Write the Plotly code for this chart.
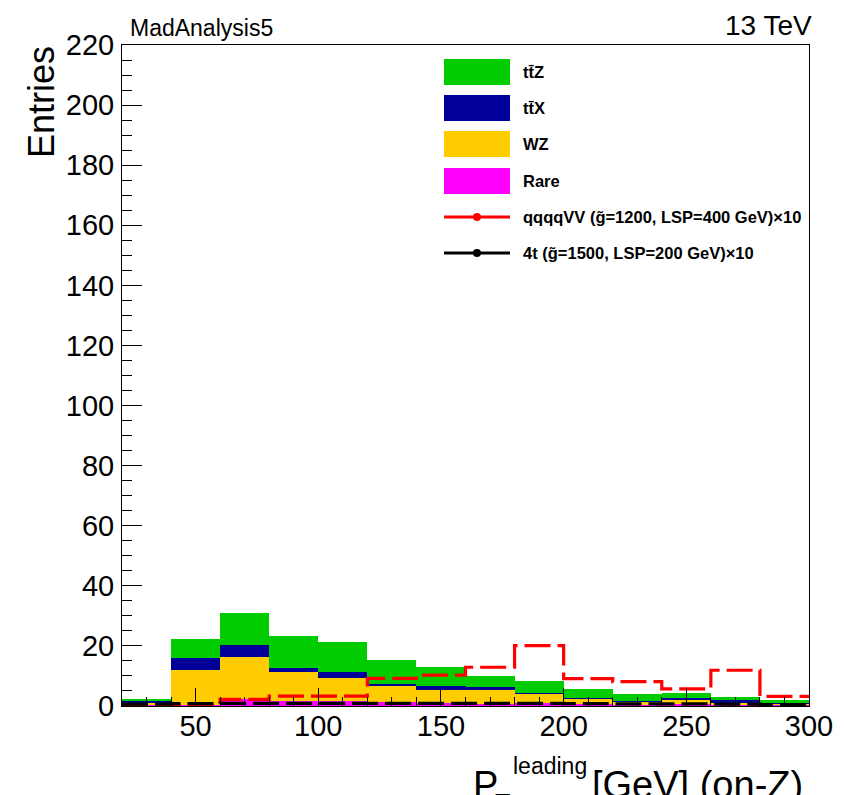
import plotly.graph_objects as go

# ---------------- data ----------------
bin_low = [20, 40, 60, 80, 100, 120, 140, 160, 180, 200, 220, 240, 260, 280]
bin_width = 20
x_max = 300

rare = [0.4, 0.5, 2.3, 1.8, 1.5, 1.2, 1.0, 0.8, 1.0, 0.7, 0.5, 0.6, 0.4, 0.4]
wz   = [0.8, 11.5, 13.9, 9.5, 7.8, 5.5, 4.3, 4.5, 3.0, 1.7, 0.9, 1.6, 0.9, 0.4]
ttx  = [0.5, 4.1, 4.1, 1.3, 2.0, 0.6, 1.4, 1.1, 0.4, 0.4, 0.2, 0.6, 0.6, 0.2]
ttz  = [0.5, 6.2, 10.5, 10.7, 10.1, 7.9, 6.2, 3.7, 3.9, 3.0, 2.5, 1.6, 1.0, 1.0]

sig_qqqqvv = [0.3, 0.3, 2.2, 3.3, 3.3, 9.2, 10.3, 12.9, 20.1, 9.1, 8.1, 5.7, 11.9, 3.2]
sig_4t     = [0.6, 0.8, 0.9, 0.9, 0.9, 0.9, 0.9, 0.9, 0.9, 0.8, 0.7, 0.7, 0.6, 0.5]

names = ["tt\u0304Z", "tt\u0304X", "WZ", "Rare"]
sig_names = ["qqqqVV (g\u0303=1200, LSP=400 GeV)\u00d710",
             "4t (g\u0303=1500, LSP=200 GeV)\u00d710"]

col_ttz, col_ttx, col_wz, col_rare = "#00CC00", "#000099", "#FFCC00", "#FF00FF"
col_red, col_black = "#FF0000", "#000000"

# ---------------- figure ----------------
# the page body adds an 8 px offset; figure coordinates = page pixels - 8
OFF = 8
W, H = 844 - OFF, 795 - OFF
L, R, T, B = 122 - OFF, 35, 45 - OFF, 89
PW, PH = W - L - R, H - T - B

def px(x):
    return (x - OFF - L) / PW

def py(y):
    return (T + PH - (y - OFF)) / PH

centers = [b + bin_width / 2 for b in bin_low]
fig = go.Figure()
for vals, col, nm in [(rare, col_rare, names[3]), (wz, col_wz, names[2]),
                      (ttx, col_ttx, names[1]), (ttz, col_ttz, names[0])]:
    fig.add_trace(go.Bar(x=centers, y=vals, width=bin_width, name=nm,
                         marker=dict(color=col, line=dict(width=0)),
                         showlegend=False))

step_x = bin_low + [x_max]
for vals, col, nm in [(sig_qqqqvv, col_red, sig_names[0]), (sig_4t, col_black, sig_names[1])]:
    fig.add_trace(go.Scatter(x=step_x, y=vals + [vals[-1]], mode="lines", name=nm,
                             line=dict(color=col, width=3.2, shape="hv", dash="26px,7px"),
                             showlegend=False))

font_family = "Liberation Sans, Arial, Helvetica, sans-serif"
fig.update_layout(
    width=W, height=H,
    margin=dict(l=L, r=R, t=T, b=B, pad=0, autoexpand=False),
    paper_bgcolor="white", plot_bgcolor="white",
    barmode="stack", bargap=0,
    font=dict(family=font_family, color="black"),
    xaxis=dict(range=[20, 300], tick0=0, dtick=50, ticks="inside", ticklen=18,
               tickwidth=1, tickcolor="black", showgrid=False, zeroline=False,
               showline=True, linecolor="black", linewidth=1, mirror=True,
               tickfont=dict(size=29, family=font_family), ticklabelstandoff=-6,
               automargin=False,
               minor=dict(dtick=10, ticks="inside", ticklen=9, tickcolor="black", showgrid=False)),
    yaxis=dict(range=[0, 220], tick0=0, dtick=20, ticks="inside", ticklen=20,
               tickwidth=1, tickcolor="black", showgrid=False, zeroline=False,
               showline=True, linecolor="black", linewidth=1, mirror=True,
               tickfont=dict(size=29, family=font_family), ticklabelstandoff=1,
               automargin=False,
               minor=dict(dtick=5, ticks="inside", ticklen=10, tickcolor="black", showgrid=False)),
)

ann = []
def text(s, x, y, size, xanchor="left", yanchor="middle", angle=0, weight="normal"):
    ann.append(dict(text=s, x=px(x), y=py(y), xref="paper", yref="paper",
                    xanchor=xanchor, yanchor=yanchor, showarrow=False, textangle=angle,
                    font=dict(size=size, family=font_family, color="black", weight=weight)))

text("MadAnalysis5", 128, 28, 23)
text("13 TeV", 814, 26, 28, xanchor="right")
text("Entries", 42, 102, 36, xanchor="center", angle=-90)
text("P", 471, 785, 38)
text("leading", 511, 766, 23)
text("T", 493, 803, 25)
text("[GeV] (on-Z)", 590, 785, 38)

# manual legend
shapes = []
rows = [(72, col_ttz, names[0]), (108, col_ttx, names[1]), (144, col_wz, names[2]), (181, col_rare, names[3])]
for yc, col, nm in rows:
    shapes.append(dict(type="rect", xref="paper", yref="paper",
                       x0=px(444), x1=px(510), y0=py(yc - 13), y1=py(yc + 13),
                       fillcolor=col, line=dict(width=0)))
    text(nm, 521, yc, 16.5, weight="bold")
for yc, col, nm in [(217, col_red, sig_names[0]), (253, col_black, sig_names[1])]:
    shapes.append(dict(type="line", xref="paper", yref="paper",
                       x0=px(444), x1=px(510), y0=py(yc), y1=py(yc),
                       line=dict(color=col, width=3)))
    shapes.append(dict(type="circle", xref="paper", yref="paper",
                       x0=px(473), x1=px(481), y0=py(yc - 4), y1=py(yc + 4),
                       fillcolor=col, line=dict(width=0)))
    text(nm, 521, yc, 16.5, weight="bold")

fig.update_layout(annotations=ann, shapes=shapes)
fig.write_html("out.html")
